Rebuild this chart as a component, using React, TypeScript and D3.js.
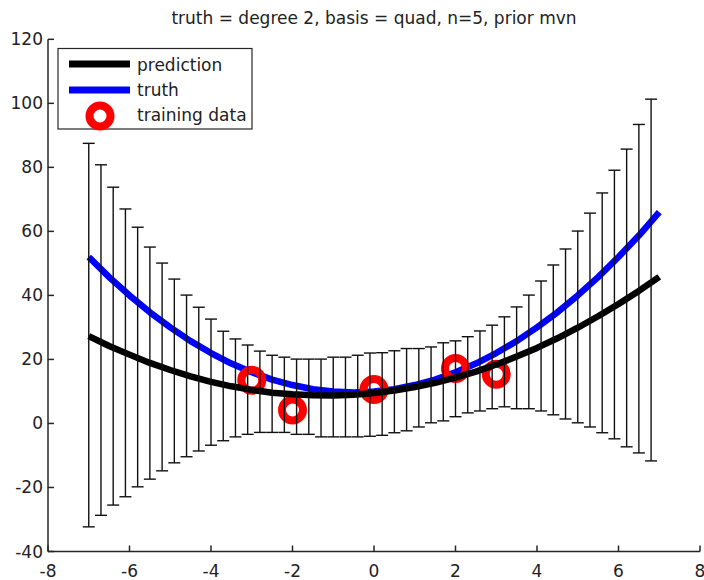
import React from "react";
import * as d3 from "d3";

// ---- data ----
const lineX = [-7, -6.5, -6, -5.5, -5, -4.5, -4, -3.5, -3, -2.5, -2, -1.5, -1, -0.5, 0, 0.5, 1, 1.5, 2, 2.5, 3, 3.5, 4, 4.5, 5, 5.5, 6, 6.5, 7];
const predictionY = [27.3, 24.2, 21.5, 18.9, 16.7, 14.7, 13.0, 11.6, 10.5, 9.6, 9.1, 8.8, 8.7, 9.0, 9.5, 10.3, 11.4, 12.7, 14.3, 16.2, 18.4, 20.9, 23.6, 26.6, 29.9, 33.5, 37.3, 41.4, 45.8];
const truthY = [52, 45.7, 40, 34.7, 30, 25.7, 22, 18.7, 16, 13.7, 12, 10.7, 10, 9.7, 10, 10.7, 12, 13.7, 16, 18.7, 22, 25.7, 30, 34.7, 40, 45.7, 52, 58.7, 66];

const barX = [-7, -6.7, -6.4, -6.1, -5.8, -5.5, -5.2, -4.9, -4.6, -4.3, -4, -3.7, -3.4, -3.1, -2.8, -2.5, -2.2, -1.9, -1.6, -1.3, -1, -0.7, -0.4, -0.1, 0.2, 0.5, 0.8, 1.1, 1.4, 1.7, 2, 2.3, 2.6, 2.9, 3.2, 3.5, 3.8, 4.1, 4.4, 4.7, 5, 5.3, 5.6, 5.9, 6.2, 6.5, 6.8];
const barUpper = [87.5, 80.8, 73.8, 67.0, 61.3, 55.1, 50.1, 45.1, 40.1, 36.3, 32.6, 28.8, 26.4, 24.5, 22.6, 21.3, 20.7, 20.1, 20.1, 20.1, 20.7, 20.7, 21.3, 22.0, 22.1, 22.7, 23.4, 23.4, 23.9, 25.2, 25.8, 27.1, 28.9, 30.7, 33.3, 36.4, 40.1, 44.5, 49.5, 54.5, 60.1, 65.7, 72.0, 79.1, 85.7, 93.4, 101.3];
const barLower = [-32.3, -28.7, -25.5, -22.9, -19.8, -17.4, -14.8, -12.3, -10.4, -8.6, -6.8, -5.4, -4.2, -3.4, -2.8, -2.8, -2.8, -3.4, -3.4, -4.2, -4.2, -4.2, -4.2, -4.0, -3.7, -2.9, -2.3, -1.1, 0.2, 0.8, 2.1, 3.3, 3.9, 4.6, 5.2, 4.6, 4.6, 3.9, 2.7, 1.4, 0.2, -1.1, -2.9, -4.8, -7.3, -9.2, -11.7];

const trainX = [-3, -2, 0, 2, 3];
const trainY = [13.5, 4.2, 10.6, 17.2, 15.4];

const xTicks = [-8, -6, -4, -2, 0, 2, 4, 6, 8];
const yTicks = [-40, -20, 0, 20, 40, 60, 80, 100, 120];

const titleText = "truth = degree 2, basis = quad, n=5, prior mvn";
const legendLabels = ["prediction", "truth", "training data"];

export default function App() {
  const W = 704, H = 580;
  const left = 48, right = 700, top = 39.3, bottom = 551.5;
  const x = d3.scaleLinear().domain([-8, 8]).range([left, right]);
  const y = d3.scaleLinear().domain([-40, 120]).range([bottom, top]);
  const line = d3.line<number>().x((_, i) => x(lineX[i])).y((d) => y(d));
  const font = "'DejaVu Sans', sans-serif";
  const axisColor = "#262626";
  const cap = 6;

  return (
    <svg width={W} height={H} style={{ position: "absolute", left: 0, top: 0, background: "#fff" }} fontFamily={font}>
      <rect x={0} y={0} width={W} height={H} fill="#fff" />
      {/* title */}
      <text x={x(0)} y={24} textAnchor="middle" fontSize={17} fill="#222">{titleText}</text>

      {/* truth */}
      <path d={line(truthY) || ""} fill="none" stroke="#0000ff" strokeWidth={6.5} strokeLinejoin="round" />
      {/* training data */}
      {trainX.map((tx, i) => (
        <circle key={i} cx={x(tx)} cy={y(trainY[i])} r={10.5} fill="none" stroke="#ff0000" strokeWidth={8} />
      ))}
      {/* prediction */}
      <path d={line(predictionY) || ""} fill="none" stroke="#000" strokeWidth={6.5} strokeLinejoin="round" />
      {/* error bars */}
      <g stroke="#111" strokeWidth={1.4}>
        {barX.map((bx, i) => {
          const px = x(bx);
          return (
            <g key={i}>
              <line x1={px} x2={px} y1={y(barLower[i])} y2={y(barUpper[i])} />
              <line x1={px - cap} x2={px + cap} y1={y(barUpper[i])} y2={y(barUpper[i])} />
              <line x1={px - cap} x2={px + cap} y1={y(barLower[i])} y2={y(barLower[i])} />
            </g>
          );
        })}
      </g>

      {/* axes */}
      <g stroke={axisColor} strokeWidth={1.5}>
        <line x1={left} x2={left} y1={top} y2={bottom} />
        <line x1={left} x2={right} y1={bottom} y2={bottom} />
        {xTicks.map((t) => (
          <line key={t} x1={x(t)} x2={x(t)} y1={bottom} y2={bottom - 6} />
        ))}
        {yTicks.map((t) => (
          <line key={t} x1={left} x2={left + 6} y1={y(t)} y2={y(t)} />
        ))}
      </g>
      <g fontSize={17} fill="#222">
        {xTicks.map((t) => (
          <text key={t} x={x(t)} y={577} textAnchor="middle">{String(t)}</text>
        ))}
        {yTicks.map((t) => (
          <text key={t} x={43} y={y(t) + 6} textAnchor="end">{String(t)}</text>
        ))}
      </g>

      {/* legend */}
      <rect x={58} y={48.5} width={194} height={80.5} fill="#fff" stroke={axisColor} strokeWidth={1.2} />
      <line x1={69} x2={130} y1={64} y2={64} stroke="#000" strokeWidth={7} />
      <line x1={69} x2={130} y1={90} y2={90} stroke="#0000ff" strokeWidth={7} />
      <circle cx={100} cy={116} r={10.5} fill="none" stroke="#ff0000" strokeWidth={8} />
      <g fontSize={17} fill="#222">
        <text x={137} y={71}>{legendLabels[0]}</text>
        <text x={137} y={96}>{legendLabels[1]}</text>
        <text x={137} y={121}>{legendLabels[2]}</text>
      </g>
    </svg>
  );
}
